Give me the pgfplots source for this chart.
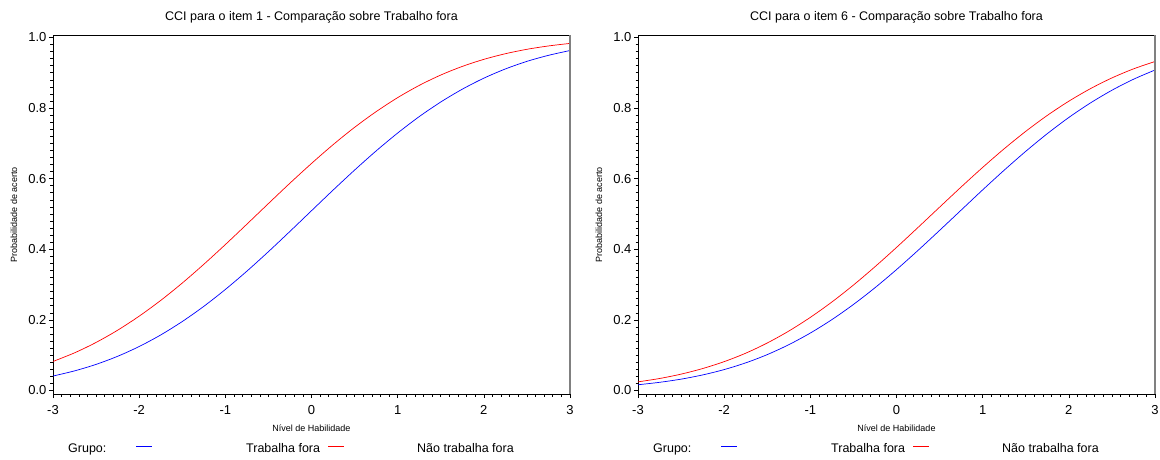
\documentclass[border=0pt]{standalone}
\usepackage{fontspec}
\setmainfont{Liberation Sans}
\usepackage{pgfplots}
\usepackage{pgfplotstable}
\pgfplotsset{compat=1.18}

\pgfplotstableread{
t      b1     r1     b6     r6
-3.00  0.0409 0.0822 0.0162 0.0244
-2.75  0.0555 0.1066 0.0231 0.0339
-2.50  0.0739 0.1361 0.0321 0.0463
-2.25  0.0968 0.1707 0.0440 0.0621
-2.00  0.1245 0.2105 0.0592 0.0817
-1.75  0.1573 0.2551 0.0782 0.1056
-1.50  0.1953 0.3043 0.1016 0.1345
-1.25  0.2383 0.3574 0.1297 0.1683
-1.00  0.2861 0.4133 0.1627 0.2071
-0.75  0.3380 0.4711 0.2007 0.2506
-0.50  0.3932 0.5295 0.2436 0.2986
-0.25  0.4507 0.5873 0.2910 0.3505
 0.00  0.5092 0.6431 0.3424 0.4052
 0.25  0.5675 0.6962 0.3969 0.4619
 0.50  0.6243 0.7454 0.4535 0.5193
 0.75  0.6786 0.7899 0.5109 0.5764
 1.00  0.7293 0.8296 0.5683 0.6319
 1.25  0.7758 0.8642 0.6241 0.6848
 1.50  0.8172 0.8936 0.6775 0.7341
 1.75  0.8535 0.9180 0.7275 0.7792
 2.00  0.8847 0.9380 0.7734 0.8195
 2.25  0.9108 0.9540 0.8144 0.8549
 2.50  0.9323 0.9665 0.8505 0.8854
 2.75  0.9494 0.9760 0.8816 0.9110
 3.00  0.9630 0.9832 0.9078 0.9320
}\data

\pgfplotsset{
  cci/.style={
    scale only axis, width=517pt, height=359pt,
    xmin=-3, xmax=3, ymin=-0.01, ymax=1.007,
    xtick={-3,-2,-1,0,1,2,3},
    ytick={0,0.2,0.4,0.6,0.8,1.0},
    minor x tick num=9, minor y tick num=9,
    tick align=outside, tick pos=left,
    major tick length=4pt, minor tick length=2.5pt,
    every tick/.style={black, line width=0.6pt},
    axis line style={black, line width=0.8pt},
    /pgf/number format/assume math mode=true,
    yticklabel style={/pgf/number format/fixed, /pgf/number format/fixed zerofill, /pgf/number format/precision=1, xshift=1pt},
    xticklabel style={/pgf/number format/fixed, /pgf/number format/precision=0, yshift=-4pt},
    tick label style={font=\fontsize{13}{15}\selectfont},
    xlabel={Nível de Habilidade},
    ylabel={Probabilidade de acerto},
    xlabel style={font=\fontsize{9}{10}\selectfont, at={(axis description cs:0.5,0)}, anchor=center, yshift=-34pt},
    ylabel style={font=\fontsize{9}{10}\selectfont, at={(axis description cs:0,0.5)}, anchor=center, rotate=0, yshift=39pt},
    title style={font=\fontsize{12.5}{14}\selectfont, at={(axis description cs:0.5,1)}, anchor=center, yshift=12pt},
    anchor=south west,
    clip=false,
  }
}

\begin{document}
\begin{tikzpicture}
\path[use as bounding box] (0,0) rectangle (1160pt,459pt);

\begin{axis}[cci, at={(53pt,65pt)}, title={CCI para o item 1 - Comparação sobre Trabalho fora}]
  \addplot[blue, line width=0.7pt, smooth] table[x=t, y=b1] {\data};
  \addplot[red, line width=0.7pt, smooth] table[x=t, y=r1] {\data};
  \draw[gray, line width=1.4pt] (rel axis cs:1,0) -- (rel axis cs:1,1);
\end{axis}

\begin{axis}[cci, at={(638pt,65pt)}, title={CCI para o item 6 - Comparação sobre Trabalho fora}]
  \addplot[blue, line width=0.7pt, smooth] table[x=t, y=b6] {\data};
  \addplot[red, line width=0.7pt, smooth] table[x=t, y=r6] {\data};
  \draw[gray, line width=1.4pt] (rel axis cs:1,0) -- (rel axis cs:1,1);
\end{axis}

% legends
\node[anchor=base west, inner sep=0pt, font=\fontsize{12.5}{14}\selectfont] at (68pt,6.5pt) {Grupo:};
\draw[draw=blue, line width=1pt] (136pt,13pt) -- (152pt,13pt);
\node[anchor=base west, inner sep=0pt, font=\fontsize{12.5}{14}\selectfont] at (246pt,6.5pt) {Trabalha fora};
\draw[draw=red, line width=1pt] (328pt,13pt) -- (344pt,13pt);
\node[anchor=base west, inner sep=0pt, font=\fontsize{12.5}{14}\selectfont] at (417pt,6.5pt) {Não trabalha fora};

\node[anchor=base west, inner sep=0pt, font=\fontsize{12.5}{14}\selectfont] at (653pt,6.5pt) {Grupo:};
\draw[draw=blue, line width=1pt] (721pt,13pt) -- (737pt,13pt);
\node[anchor=base west, inner sep=0pt, font=\fontsize{12.5}{14}\selectfont] at (831pt,6.5pt) {Trabalha fora};
\draw[draw=red, line width=1pt] (913pt,13pt) -- (929pt,13pt);
\node[anchor=base west, inner sep=0pt, font=\fontsize{12.5}{14}\selectfont] at (1002pt,6.5pt) {Não trabalha fora};
\end{tikzpicture}
\end{document}
